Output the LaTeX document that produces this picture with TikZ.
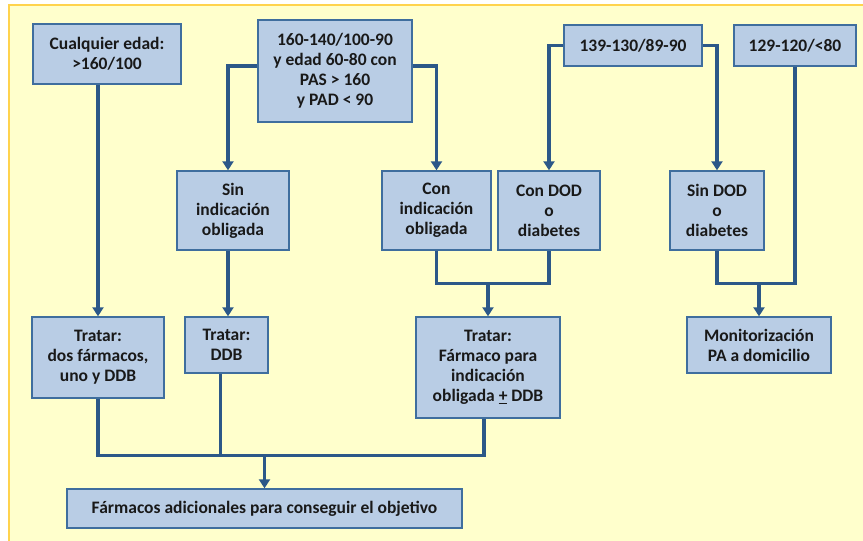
\documentclass[tikz,border=0pt]{standalone}
\usepackage{fontspec}
\setmainfont{Carlito}
\usetikzlibrary{arrows.meta, calc}
\definecolor{boxfill}{HTML}{B9CDE5}
\definecolor{boxline}{HTML}{3F6E9E}
\definecolor{linkline}{HTML}{2C5888}
\definecolor{paper}{HTML}{FFFFCC}
\definecolor{paperedge}{HTML}{FFD34D}
\newcommand{\flowArrow}{{Triangle[width=11pt, length=9pt]}}

\begin{document}
\begin{tikzpicture}[x=1pt, y=-1pt, font=\bfseries\fontsize{17.5}{20}\selectfont,
	box/.style={draw=boxline, line width=1.4pt, fill=boxfill, align=center, inner sep=0pt, text=black!90},
	link/.style={draw=linkline, line width=3.2pt}]
	\useasboundingbox (0,0) rectangle (863,541);
	
	% background sheet
	\fill[paper] (9,5) rectangle (880,560);
	\draw[paperedge, line width=2pt] (880,5) -- (9,5) -- (9,560);
	
	% top row
	\node[box, minimum width=148, minimum height=60]	(cualq) at (107,54)		{Cualquier edad:\\>160/100};
	\node[box, minimum width=154, minimum height=102]	(rango1) at (335,71)	{160-140/100-90\\y edad 60-80 con\\PAS > 160\\y PAD < 90};
	\node[box, minimum width=138, minimum height=41]	(rango2) at (633,45.5)	{139-130/89-90};
	\node[box, minimum width=122, minimum height=41]	(rango3) at (795,45.5)	{129-120/<80};
	
	% middle row
	\node[box, minimum width=112, minimum height=79]	(sinind) at (233,210.5)	{Sin\\indicación\\obligada};
	\node[box, minimum width=109, minimum height=79]	(conind) at (436.5,210.5)	{Con\\indicación\\obligada};
	\node[box, minimum width=102, minimum height=79]	(condod) at (549,210.5)	{Con DOD\\o\\diabetes};
	\node[box, minimum width=94, minimum height=79]		(sindod) at (717,210.5)	{Sin DOD\\o\\diabetes};
	
	% treatments
	\node[box, minimum width=132, minimum height=81]	(trat1) at (98,357.5)	{Tratar:\\dos fármacos,\\uno y DDB};
	\node[box, minimum width=83, minimum height=56]		(trat2) at (226.5,345)	{Tratar:\\DDB};
	\node[box, minimum width=144, minimum height=101]	(trat3) at (488,367.5)	{Tratar:\\Fármaco para\\indicación\\obligada \underline{+} DDB};
	\node[box, minimum width=144, minimum height=56]	(monit) at (759,345)	{Monitorización\\PA a domicilio};
	\node[box, minimum width=395, minimum height=39]	(adic) at (264.5,508.5)	{Fármacos adicionales para conseguir el objetivo};
	
	\coordinate (join1) at ($(trat3.north)+(0,-33)$);
	\coordinate (join2) at ($(monit.north)+(0,-33)$);
	\coordinate (join3) at ($(adic.north)+(0,-33)$);
	
	% connectors
	\draw[link, -\flowArrow]	(cualq.south -| trat1.north) -- (trat1.north);
	\draw[link, -\flowArrow]	([yshift=5pt]rango1.west) -| ([xshift=-5pt]sinind.north);
	\draw[link, -\flowArrow]	([yshift=5pt]rango1.east) -| (conind.north);
	\draw[link, -\flowArrow]	(rango2.west) -| (condod.north);
	\draw[link, -\flowArrow]	(rango2.east) -| (sindod.north);
	\draw[link, -\flowArrow]	([xshift=-5pt]sinind.south) -- ([xshift=-5pt]sinind.south |- trat2.north);
	
	\draw[link]	(conind.south) |- (join1) -| (condod.south);
	\draw[link, -\flowArrow]	(join1) -- (trat3.north);
	\draw[link]	(sindod.south) |- (join2) -| (rango3.south);
	\draw[link, -\flowArrow]	(join2) -- (monit.north);
	
	\draw[link]	(trat1.south) |- (join3) -| ([xshift=-4pt]trat3.south);
	\draw[link]	([xshift=-6pt]trat2.south) -- ([xshift=-6pt]trat2.south |- join3);
	\draw[link, -\flowArrow]	(join3) -- (adic.north);
\end{tikzpicture}
\end{document}
